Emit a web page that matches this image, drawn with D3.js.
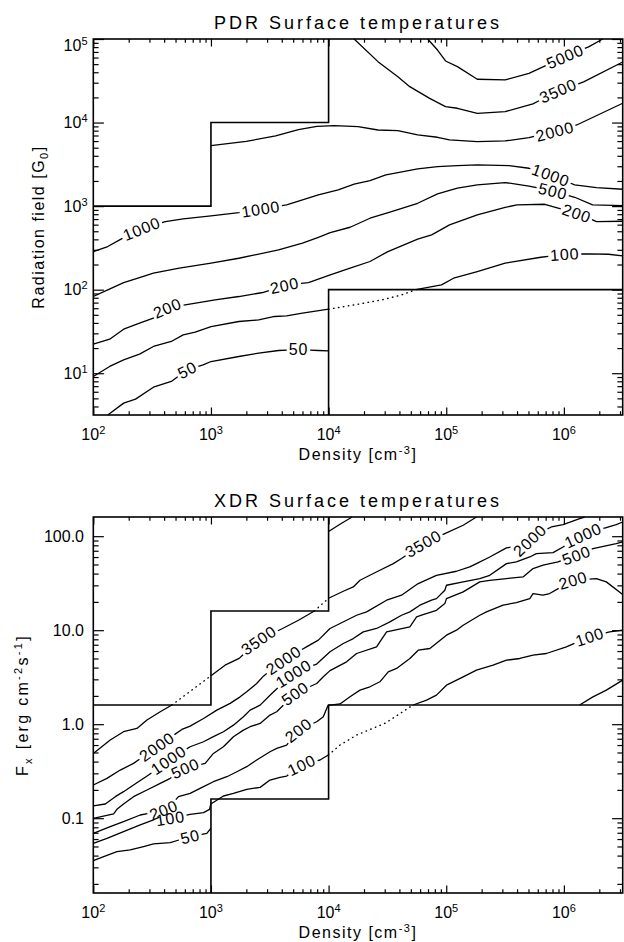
<!DOCTYPE html>
<html>
<head>
<meta charset="utf-8">
<script src="https://cdn.jsdelivr.net/npm/d3@7"></script>
<style>
body{margin:0;background:#fff;}
svg{display:block;}
text{font-family:"Liberation Sans",Arial,sans-serif;fill:#000;}
</style>
</head>
<body>
<svg id="chart" width="624" height="942"></svg>
<script>
/* data: every value is log10 (density n, field G0, flux Fx) */
var densityTicks = [2, 3, 4, 5, 6];
var pdrTicks = [1, 2, 3, 4, 5];
var xdrTicks = [0.1, 1.0, 10.0, 100.0];
var xdrTickText = ["0.1", "1.0", "10.0", "100.0"];

var pdrBoxA = [[2,3],[3,3],[3,4],[4,4],[4,5]];
var pdrBoxB = [[4,0.5],[4,2],[6.5,2]];
var xdrBoxA = [[2,0.204],[3,0.204],[3,1.204],[4,1.204],[4,2.204]];
var xdrBoxB = [[3,-1.796],[3,-0.796],[4,-0.796],[4,0.204],[6.5,0.204]];

var pdr5000 = [[4.842,5.0],[4.926,4.868],[4.994,4.737],[5.095,4.669],[5.264,4.518],[5.501,4.510],[5.703,4.589],[6.01,4.79],[6.21,4.905],[6.33,5.0]];
var pdr3500 = [[4.217,5.0],[4.420,4.729],[4.589,4.549],[4.690,4.430],[4.859,4.290],[4.994,4.191],[5.095,4.171],[5.264,4.111],[5.501,4.131],[5.737,4.223],[5.95,4.38],[6.168,4.486],[6.5,4.725]];
var pdr2000 = [[3.0,3.724],[3.30,3.775],[3.55,3.84],[3.744,3.915],[3.9,3.955],[4.048,3.963],[4.251,3.951],[4.420,3.911],[4.589,3.903],[4.757,3.852],[4.926,3.824],[5.028,3.792],[5.264,3.772],[5.501,3.780],[5.703,3.820],[5.923,3.895],[6.109,3.971],[6.5,4.231]];
var pdr1000 = [[2.0,2.456],[2.123,2.516],[2.224,2.596],[2.41,2.73],[2.612,2.815],[2.764,2.847],[3.001,2.883],[3.237,2.922],[3.423,2.965],[3.643,3.014],[3.778,3.074],[3.913,3.134],[4.082,3.194],[4.217,3.262],[4.352,3.305],[4.487,3.373],[4.589,3.401],[4.757,3.445],[4.926,3.473],[5.095,3.485],[5.264,3.493],[5.534,3.485],[5.703,3.453],[5.889,3.37],[6.092,3.254],[6.277,3.222],[6.5,3.202]];
var pdr500 = [[2.0,1.918],[2.123,1.997],[2.258,2.085],[2.393,2.145],[2.511,2.197],[2.731,2.257],[3.001,2.317],[3.237,2.376],[3.575,2.476],[3.778,2.556],[3.913,2.627],[4.014,2.683],[4.183,2.747],[4.352,2.855],[4.521,2.927],[4.757,3.034],[4.926,3.146],[5.095,3.214],[5.264,3.254],[5.501,3.282],[5.703,3.24],[5.906,3.18],[6.092,3.106],[6.244,3.014],[6.5,3.006]];
var pdr200 = [[2.0,1.348],[2.139,1.407],[2.258,1.527],[2.393,1.599],[2.511,1.659],[2.629,1.78],[2.832,1.830],[3.035,1.878],[3.237,1.918],[3.440,1.966],[3.626,2.05],[3.829,2.085],[4.014,2.177],[4.183,2.257],[4.352,2.337],[4.504,2.456],[4.757,2.604],[4.876,2.656],[5.028,2.775],[5.264,2.895],[5.501,2.986],[5.602,3.014],[5.838,3.022],[6.109,2.914],[6.277,2.815],[6.5,2.819]];
var pdr100 = [[2.0,0.961],[2.139,1.081],[2.258,1.160],[2.393,1.228],[2.511,1.320],[2.663,1.380],[2.764,1.459],[2.866,1.491],[3.001,1.559],[3.237,1.619],[3.406,1.639],[3.541,1.679],[3.643,1.687],[3.778,1.718],[4.0,1.766],[4.251,1.826],[4.454,1.878],[4.622,1.938],[4.741,2.0],[4.960,2.057],[5.062,2.137],[5.264,2.217],[5.501,2.317],[5.805,2.388],[6.007,2.424],[6.210,2.428],[6.379,2.424],[6.5,2.404]];
var pdr50 = [[2.123,0.5],[2.258,0.642],[2.359,0.690],[2.511,0.833],[2.663,0.901],[2.798,1.04],[2.933,1.100],[3.001,1.140],[3.237,1.200],[3.406,1.240],[3.575,1.272],[3.744,1.285],[3.913,1.272],[4.0,1.268]];

var xdr5000 = [[4.0,2.05],[4.10,2.13],[4.20,2.204]];
var xdr3500 = [[2.0,-0.311],[2.144,-0.169],[2.257,-0.080],[2.371,-0.045],[2.456,0.044],[2.569,0.132],[2.668,0.204],[3.0,0.515],[3.12,0.628],[3.24,0.70],[3.406,0.894],[3.609,1.018],[3.744,1.106],[3.879,1.204],[4.0,1.34],[4.125,1.414],[4.210,1.460],[4.267,1.531],[4.351,1.584],[4.436,1.638],[4.550,1.708],[4.620,1.762],[4.804,1.921],[4.988,2.027],[5.144,2.116],[5.257,2.204]];
var xdr2000 = [[2.0,-0.647],[2.116,-0.576],[2.229,-0.488],[2.342,-0.417],[2.540,-0.240],[2.753,-0.056],[2.823,-0.020],[2.937,0.061],[3.050,0.150],[3.163,0.221],[3.248,0.291],[3.304,0.345],[3.389,0.433],[3.446,0.511],[3.616,0.681],[3.812,0.823],[3.913,0.894],[4.012,1.018],[4.153,1.106],[4.238,1.159],[4.323,1.195],[4.493,1.319],[4.620,1.372],[4.719,1.460],[4.762,1.496],[4.917,1.584],[5.087,1.627],[5.200,1.673],[5.257,1.708],[5.370,1.779],[5.512,1.875],[5.68,1.912],[5.710,1.956],[5.74,2.001],[5.894,2.098],[5.993,2.123],[6.134,2.187],[6.177,2.204]];
var xdr1000 = [[2.0,-0.870],[2.102,-0.849],[2.187,-0.771],[2.257,-0.718],[2.342,-0.647],[2.470,-0.541],[2.639,-0.381],[2.823,-0.240],[2.937,-0.187],[3.021,-0.133],[3.106,-0.080],[3.191,-0.010],[3.276,0.079],[3.333,0.150],[3.418,0.203],[3.517,0.327],[3.701,0.539],[3.899,0.640],[4.012,0.770],[4.125,0.858],[4.210,0.911],[4.295,0.982],[4.408,1.018],[4.521,1.088],[4.620,1.159],[4.691,1.195],[4.776,1.266],[4.875,1.319],[4.917,1.336],[4.988,1.425],[5.002,1.478],[5.144,1.514],[5.285,1.549],[5.370,1.584],[5.512,1.708],[5.596,1.726],[5.710,1.779],[5.766,1.815],[5.908,1.825],[5.993,1.885],[6.163,2.009],[6.346,2.087],[6.445,2.123],[6.5,2.151]];
var xdr500 = [[2.0,-1.001],[2.173,-0.955],[2.201,-0.906],[2.257,-0.849],[2.342,-0.771],[2.456,-0.700],[2.569,-0.630],[2.654,-0.576],[2.781,-0.470],[2.951,-0.417],[3.021,-0.311],[3.106,-0.240],[3.191,-0.133],[3.276,-0.063],[3.333,-0.027],[3.418,0.008],[3.502,0.097],[3.559,0.132],[3.602,0.185],[3.715,0.327],[3.899,0.433],[3.955,0.504],[4.012,0.57],[4.153,0.663],[4.238,0.752],[4.408,0.823],[4.436,0.876],[4.493,0.982],[4.691,1.035],[4.748,1.142],[4.790,1.159],[4.917,1.212],[4.988,1.283],[5.002,1.336],[5.144,1.407],[5.285,1.514],[5.370,1.531],[5.512,1.549],[5.653,1.567],[5.738,1.655],[5.823,1.691],[5.950,1.726],[6.106,1.797],[6.247,1.868],[6.445,1.921],[6.5,1.939]];
var xdr200 = [[2.0,-1.161],[2.144,-1.090],[2.257,-1.037],[2.399,-0.966],[2.56,-0.925],[2.597,-0.913],[2.63,-0.90],[2.724,-0.771],[2.823,-0.736],[2.937,-0.665],[3.021,-0.612],[3.135,-0.559],[3.220,-0.506],[3.304,-0.452],[3.389,-0.381],[3.502,-0.293],[3.559,-0.257],[3.644,-0.222],[3.743,-0.063],[3.899,0.026],[3.955,0.079],[3.995,0.2],[4.097,0.215],[4.182,0.291],[4.267,0.362],[4.351,0.398],[4.436,0.451],[4.507,0.557],[4.578,0.593],[4.691,0.699],[4.762,0.787],[4.861,0.805],[5.002,0.947],[5.087,1.0],[5.144,1.053],[5.285,1.159],[5.342,1.195],[5.483,1.266],[5.596,1.294],[5.710,1.336],[5.738,1.390],[5.823,1.372],[5.879,1.390],[6.078,1.531],[6.276,1.549],[6.361,1.514],[6.5,1.379]];
var xdr100 = [[2.0,-1.267],[2.116,-1.214],[2.257,-1.143],[2.399,-1.072],[2.512,-1.019],[2.654,-1.001],[2.823,-0.959],[2.937,-0.941],[2.988,-0.906],[2.999,-0.849],[3.106,-0.764],[3.191,-0.736],[3.304,-0.693],[3.418,-0.672],[3.502,-0.594],[3.587,-0.566],[3.644,-0.552],[3.771,-0.435],[3.927,-0.381],[3.998,-0.328],[4.097,-0.222],[4.238,-0.116],[4.48,0.01],[4.719,0.204],[4.833,0.256],[4.917,0.309],[5.002,0.415],[5.144,0.504],[5.257,0.575],[5.398,0.628],[5.512,0.681],[5.625,0.699],[5.738,0.734],[5.851,0.752],[6.021,0.823],[6.219,0.929],[6.389,0.982],[6.5,1.0]];
var xdr50 = [[2.0,-1.451],[2.088,-1.409],[2.201,-1.355],[2.314,-1.338],[2.427,-1.302],[2.512,-1.274],[2.654,-1.260],[2.823,-1.196],[2.965,-1.161],[2.999,-1.108]];
var xdr50b = [[6.134,0.204],[6.247,0.291],[6.361,0.362],[6.5,0.469]];

/* contour label positions (log n) and dotted stretches (log n ranges) */
var pdrContours = [
  {level:5000, pts:pdr5000, labels:[6.01], dots:[]},
  {level:3500, pts:pdr3500, labels:[5.95], dots:[]},
  {level:2000, pts:pdr2000, labels:[5.923], dots:[]},
  {level:1000, pts:pdr1000, labels:[2.41,3.423,5.889], dots:[]},
  {level:500,  pts:pdr500,  labels:[5.906], dots:[]},
  {level:200,  pts:pdr200,  labels:[2.629,3.626,6.109], dots:[]},
  {level:100,  pts:pdr100,  labels:[6.007], dots:[[4.0,4.741]]},
  {level:50,   pts:pdr50,   labels:[2.798,3.744], dots:[]}
];
var xdrContours = [
  {level:5000, pts:xdr5000, labels:[], dots:[]},
  {level:3500, pts:xdr3500, labels:[3.406,4.804], dots:[[2.668,3.0],[3.879,4.0]]},
  {level:2000, pts:xdr2000, labels:[2.540,3.616,5.710], dots:[]},
  {level:1000, pts:xdr1000, labels:[2.639,3.701,6.163], dots:[]},
  {level:500,  pts:xdr500,  labels:[2.781,3.715,6.106], dots:[]},
  {level:200,  pts:xdr200,  labels:[2.597,3.743,6.078], dots:[]},
  {level:100,  pts:xdr100,  labels:[2.654,3.771,6.219], dots:[[3.998,4.719]]},
  {level:50,   pts:xdr50,   labels:[2.823], dots:[]},
  {level:50,   pts:xdr50b,  labels:[], dots:[]}
];

var svg = d3.select("#chart");
var left = 93.3, right = 622.7, plotH = 376;
var x = d3.scaleLog().domain([1e2, Math.pow(10, 6.5)]).range([left, right]);
function lin(v){ return Math.pow(10, v); }

function minorTicks(dom){
  var out = [];
  var lo = Math.floor(Math.log10(dom[0])), hi = Math.ceil(Math.log10(dom[1]));
  for (var e = lo; e < hi; e++)
    for (var k = 2; k <= 9; k++){
      var v = k * Math.pow(10, e);
      if (v > dom[0]*1.0001 && v < dom[1]*0.9999) out.push(v);
    }
  return out;
}

function drawContour(g, y, c){
  var P = c.pts.map(function(p){ return [x(lin(p[0])), y(lin(p[1]))]; });
  var L = [0];
  for (var i = 1; i < P.length; i++)
    L.push(L[i-1] + Math.hypot(P[i][0]-P[i-1][0], P[i][1]-P[i-1][1]));
  var total = L[L.length-1];
  function at(s){
    s = Math.max(0, Math.min(total, s));
    for (var j = 0; j < P.length-1; j++){
      if (s <= L[j+1] || j == P.length-2){
        var t = (L[j+1]-L[j]) > 0 ? (s-L[j])/(L[j+1]-L[j]) : 0;
        return [P[j][0]+t*(P[j+1][0]-P[j][0]), P[j][1]+t*(P[j+1][1]-P[j][1])];
      }
    }
  }
  var gaps = [];
  c.labels.forEach(function(n){
    var k = d3.minIndex(c.pts, function(p){ return Math.abs(p[0]-n); });
    var s0 = L[k];
    var t = g.append("text")
      .attr("text-anchor", "middle")
      .attr("dy", "0.36em")
      .style("font-size", "16px")
      .style("letter-spacing", "0.8px")
      .text(c.level);
    var half = t.node().getComputedTextLength()/2 + 2;
    var a = at(s0-7), b = at(s0+7);
    var ang = Math.atan2(b[1]-a[1], b[0]-a[0])*180/Math.PI;
    if (ang > 90) ang -= 180;
    if (ang < -90) ang += 180;
    t.attr("transform", "translate(" + P[k][0] + "," + P[k][1] + ") rotate(" + ang + ")");
    gaps.push([s0-half, s0+half]);
  });
  var pieces = [];
  for (var i = 0; i < P.length-1; i++){
    var mid = (c.pts[i][0] + c.pts[i+1][0])/2;
    var dot = c.dots.some(function(d){ return mid > d[0] && mid < d[1]; });
    var vis = [[L[i], L[i+1]]];
    gaps.forEach(function(gp){
      var nv = [];
      vis.forEach(function(v){
        if (gp[1] <= v[0] || gp[0] >= v[1]) nv.push(v);
        else {
          if (gp[0] > v[0]) nv.push([v[0], gp[0]]);
          if (gp[1] < v[1]) nv.push([gp[1], v[1]]);
        }
      });
      vis = nv;
    });
    vis.forEach(function(v){
      if (v[1]-v[0] < 0.01) return;
      var last = pieces[pieces.length-1];
      if (last && last.dot === dot && Math.abs(last.end - v[0]) < 1e-6){
        last.pts.push(at(v[1])); last.end = v[1];
      } else pieces.push({dot:dot, pts:[at(v[0]), at(v[1])], end:v[1]});
    });
  }
  pieces.forEach(function(pc){
    g.append("path")
      .attr("d", d3.line()(pc.pts))
      .attr("fill", "none")
      .attr("stroke", "#000")
      .attr("stroke-width", pc.dot ? 1.4 : 1.3)
      .attr("stroke-linejoin", "round")
      .attr("stroke-linecap", pc.dot ? "round" : "butt")
      .attr("stroke-dasharray", pc.dot ? "0.5,4.5" : null);
  });
}

function drawPanel(p){
  var top = p.top, bottom = top + plotH;
  var y = d3.scaleLog().domain(p.yDomain).range([bottom, top]);
  var g = svg.append("g");

  var line = d3.line().x(function(d){ return x(lin(d[0])); }).y(function(d){ return y(lin(d[1])); });
  p.boxes.forEach(function(b){
    g.append("path").attr("d", line(b)).attr("fill", "none")
      .attr("stroke", "#000").attr("stroke-width", 1.6);
  });

  p.contours.forEach(function(c){ drawContour(g, y, c); });

  function ticks(axis, vals, size, tr){
    g.append("g").attr("transform", tr)
      .call(axis.tickValues(vals).tickSize(size).tickSizeOuter(0).tickFormat(""))
      .call(function(s){ s.select(".domain").remove(); s.selectAll("line").attr("stroke-width", 1.2); });
  }
  var xMaj = densityTicks.map(lin), xMin = minorTicks(x.domain());
  var yMaj = p.yMajor, yMin = minorTicks(y.domain());
  ticks(d3.axisBottom(x), xMaj, -7.5, "translate(0," + bottom + ")");
  ticks(d3.axisBottom(x), xMin, -3.75, "translate(0," + bottom + ")");
  ticks(d3.axisTop(x), xMaj, -7.5, "translate(0," + top + ")");
  ticks(d3.axisTop(x), xMin, -3.75, "translate(0," + top + ")");
  ticks(d3.axisLeft(y), yMaj, -10.6, "translate(" + left + ",0)");
  ticks(d3.axisLeft(y), yMin, -5.3, "translate(" + left + ",0)");
  ticks(d3.axisRight(y), yMaj, -10.6, "translate(" + right + ",0)");
  ticks(d3.axisRight(y), yMin, -5.3, "translate(" + right + ",0)");

  g.append("rect").attr("x", left).attr("y", top)
    .attr("width", right-left).attr("height", plotH)
    .attr("fill", "none").attr("stroke", "#000").attr("stroke-width", 1.6);

  // x tick labels
  densityTicks.forEach(function(e){
    var t = g.append("text").attr("x", x(lin(e))).attr("y", bottom + 25)
      .attr("text-anchor", "middle").style("font-size", "16px");
    t.append("tspan").text("10");
    t.append("tspan").attr("dy", -6).style("font-size", "11px").text(e);
  });
  // y tick labels
  p.yMajor.forEach(function(v, i){
    var cy = Math.max(y(v), top + 6);
    var t = g.append("text").attr("x", p.yLabelX).attr("y", cy + 5.7)
      .attr("text-anchor", "end").style("font-size", "16px");
    p.yLabel(t, i);
  });

  // title
  svg.append("text").attr("x", (left+right)/2).attr("y", top - 10)
    .attr("text-anchor", "middle").style("font-size", "18px")
    .style("letter-spacing", "3px").text(p.title);

  // x title
  var xt = svg.append("text").attr("x", (left+right)/2).attr("y", bottom + 45)
    .attr("text-anchor", "middle").style("font-size", "16px").style("letter-spacing", "1.5px");
  xt.append("tspan").text("Density [cm");
  xt.append("tspan").attr("dy", -6).style("font-size", "11px").text("-3");
  xt.append("tspan").attr("dy", 6).text("]");

  // y title
  var yt = svg.append("text")
    .attr("transform", "translate(" + p.yTitleX + "," + (top + plotH/2) + ") rotate(-90)")
    .attr("text-anchor", "middle").style("font-size", "16px").style("letter-spacing", p.yTitleSpacing);
  p.yTitle(yt);
}

drawPanel({
  top: 39,
  yDomain: [Math.pow(10, 0.5), 1e5],
  yMajor: pdrTicks.map(lin),
  yLabelX: 87.5,
  yLabel: function(t, i){
    t.append("tspan").text("10");
    t.append("tspan").attr("dy", -6).style("font-size", "11px").text(pdrTicks[i]);
  },
  title: "PDR Surface temperatures",
  yTitleX: 44,
  yTitleSpacing: "1.5px",
  yTitle: function(t){
    t.append("tspan").text("Radiation field [G");
    t.append("tspan").attr("dy", 4).style("font-size", "11px").text("0");
    t.append("tspan").attr("dy", -4).text("]");
  },
  boxes: [pdrBoxA, pdrBoxB],
  contours: pdrContours
});

drawPanel({
  top: 517,
  yDomain: [0.016, 160],
  yMajor: xdrTicks,
  yLabelX: 84,
  yLabel: function(t, i){ t.text(xdrTickText[i]); },
  title: "XDR Surface temperatures",
  yTitleX: 28,
  yTitleSpacing: "2.3px",
  yTitle: function(t){
    t.append("tspan").text("F");
    t.append("tspan").attr("dy", 4).style("font-size", "11px").text("x");
    t.append("tspan").attr("dy", -4).text(" [erg cm");
    t.append("tspan").attr("dy", -6).style("font-size", "11px").text("-2");
    t.append("tspan").attr("dy", 6).text("s");
    t.append("tspan").attr("dy", -6).style("font-size", "11px").text("-1");
    t.append("tspan").attr("dy", 6).text("]");
  },
  boxes: [xdrBoxA, xdrBoxB],
  contours: xdrContours
});
</script>
</body>
</html>
